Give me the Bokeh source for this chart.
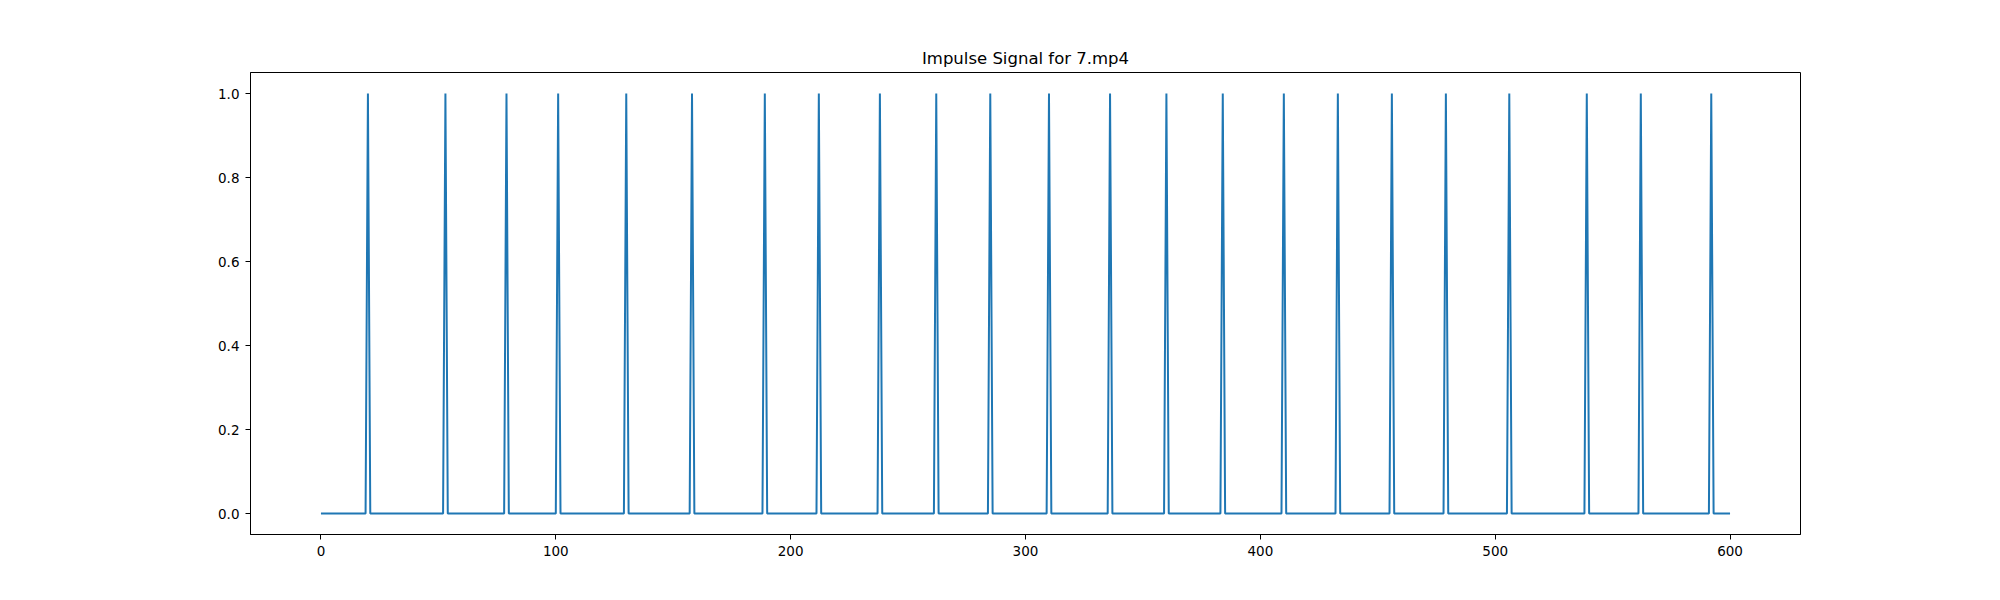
import numpy as np
from bokeh.plotting import figure
from bokeh.models import FixedTicker, Range1d, CustomJSTickFormatter
from bokeh.embed import file_html
from bokeh.resources import INLINE

title_text = "Impulse Signal for 7.mp4"
n_samples = 601
spike_frames = [20, 53, 79, 101, 130, 158, 189, 212, 238, 262, 285, 310,
                336, 360, 384, 410, 433, 456, 479, 506, 539, 562, 592]
x_ticks = [0, 100, 200, 300, 400, 500, 600]
y_ticks = [0.0, 0.2, 0.4, 0.6, 0.8, 1.0]

x = np.arange(n_samples)
y = np.zeros(n_samples)
y[spike_frames] = 1.0

p = figure(width=2000, height=600, output_backend="svg", toolbar_location=None,
           x_range=Range1d(-30, 630), y_range=Range1d(-0.05, 1.05),
           min_border_left=250, min_border_right=200, min_border_top=72,
           min_border_bottom=66)
p.title.text = title_text
p.title.align = "center"
p.title.text_font = "DejaVu Sans"
p.title.text_font_size = "16.5px"
p.title.text_font_style = "normal"
p.title.text_color = "black"

p.line(x, y, line_color="#1f77b4", line_width=2)

p.xgrid.visible = False
p.ygrid.visible = False
p.outline_line_color = "black"
p.outline_line_alpha = 1
p.outline_line_width = 1
p.background_fill_color = "white"

for ax in (p.xaxis[0], p.yaxis[0]):
    ax.axis_line_color = "black"
    ax.major_tick_line_color = "black"
    ax.major_tick_out = 5
    ax.major_tick_in = 0
    ax.minor_tick_line_color = None
    ax.major_label_text_font = "DejaVu Sans"
    ax.major_label_text_font_size = "13.5px"
    ax.major_label_text_color = "black"

p.xaxis[0].ticker = FixedTicker(ticks=x_ticks)
p.yaxis[0].ticker = FixedTicker(ticks=y_ticks)
p.yaxis[0].formatter = CustomJSTickFormatter(code="return tick.toFixed(1);")
p.xaxis[0].major_label_standoff = 6
p.yaxis[0].major_label_standoff = 6

open("out.html", "w").write(file_html(p, INLINE))
